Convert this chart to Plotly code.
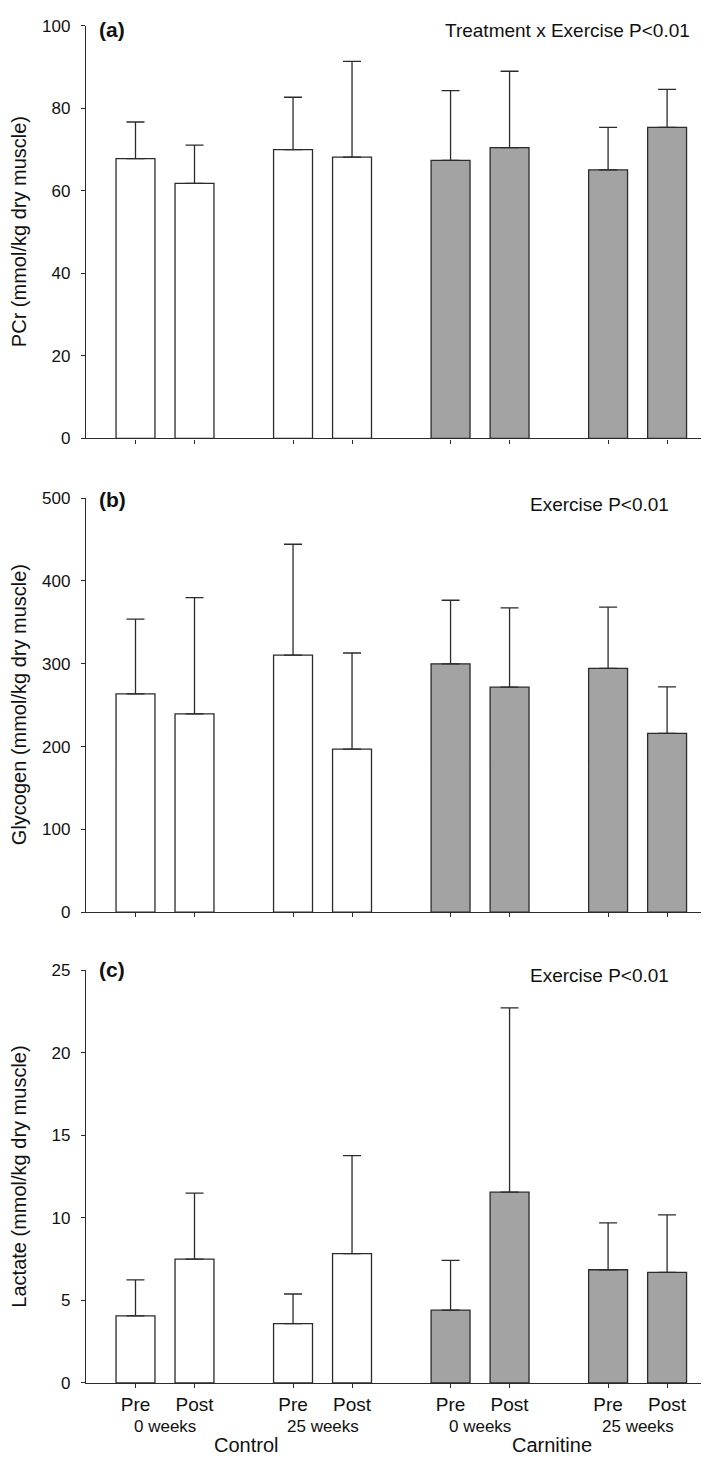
import plotly.graph_objects as go

# ---------------- data ----------------
conditions = ["Pre", "Post", "Pre", "Post", "Pre", "Post", "Pre", "Post"]
periods = ["0 weeks", "25 weeks", "0 weeks", "25 weeks"]
treatments = ["Control", "Carnitine"]

pcr_mean = [67.8, 61.8, 70.0, 68.2, 67.4, 70.5, 65.1, 75.4]
pcr_upper = [76.7, 71.1, 82.7, 91.4, 84.3, 89.0, 75.4, 84.6]

glyc_mean = [263.7, 239.5, 310.3, 196.9, 299.9, 271.7, 294.4, 216.0]
glyc_upper = [354.0, 379.9, 444.3, 313.0, 376.7, 367.5, 368.3, 272.1]

lac_mean = [4.06, 7.50, 3.59, 7.84, 4.41, 11.56, 6.86, 6.70]
lac_upper = [6.25, 11.50, 5.39, 13.77, 7.43, 22.73, 9.70, 10.19]

panel_titles = ["PCr (mmol/kg dry muscle)",
                "Glycogen (mmol/kg dry muscle)",
                "Lactate (mmol/kg dry muscle)"]
panel_letters = ["(a)", "(b)", "(c)"]
panel_stats = ["Treatment x Exercise P<0.01", "Exercise P<0.01", "Exercise P<0.01"]
y_ranges = [[0, 100], [0, 500], [0, 25]]
y_dticks = [20, 100, 5]

# ---------------- layout helpers ----------------
W, H = 709, 1457
PAIR_GAP = 2.67
xpos = [(i // 2) * PAIR_GAP + (i % 2) for i in range(8)]
x_range = [-0.839, 9.856]
BAR_W = 0.66

# panel pixel extents (top, bottom)
panel_px = [(9, 427), (487.5, 907), (966, 1384)]

FONT = "Liberation Sans, Arial, sans-serif"
LINE = "#2b2b2b"
GRAY = "#a3a3a3"

fig = go.Figure()
annotations = []

datasets = [(pcr_mean, pcr_upper), (glyc_mean, glyc_upper), (lac_mean, lac_upper)]

for p, (means, uppers) in enumerate(datasets):
    n = p + 1
    xa = "x" if n == 1 else f"x{n}"
    ya = "y" if n == 1 else f"y{n}"
    errs = [u - m for u, m in zip(uppers, means)]
    for t, color in enumerate(["white", GRAY]):
        idx = list(range(t * 4, t * 4 + 4))
        fig.add_trace(go.Bar(
            x=[xpos[i] for i in idx],
            y=[means[i] for i in idx],
            width=BAR_W,
            marker=dict(color=color, line=dict(color=LINE, width=1.3)),
            error_y=dict(type="data", symmetric=False,
                         array=[errs[i] for i in idx],
                         arrayminus=[0] * 4,
                         color=LINE, thickness=1.3, width=9),
            xaxis=xa, yaxis=ya, showlegend=False,
            name=treatments[t],
        ))

    top, bot = panel_px[p]
    dom = [1 - bot / H, 1 - top / H]
    xkey = "xaxis" if n == 1 else f"xaxis{n}"
    ykey = "yaxis" if n == 1 else f"yaxis{n}"
    fig.update_layout(**{
        xkey: dict(domain=[78 / W, 1.0], range=x_range, anchor=ya,
                   showline=True, linecolor=LINE, linewidth=1.3,
                   ticks="outside", ticklen=4, tickwidth=1.3, tickcolor=LINE,
                   tickvals=xpos,
                   ticktext=conditions if n == 3 else [""] * 8,
                   showticklabels=(n == 3),
                   tickfont=dict(family=FONT, size=19, color="#111"),
                   ticklabelstandoff=0,
                   showgrid=False, zeroline=False, fixedrange=True),
        ykey: dict(domain=dom, range=y_ranges[p], anchor=xa,
                   dtick=y_dticks[p], tick0=0,
                   showline=True, linecolor=LINE, linewidth=1.3,
                   ticks="outside", ticklen=4, tickwidth=1.3, tickcolor=LINE,
                   tickfont=dict(family=FONT, size=17, color="#111"),
                   ticklabelstandoff=7,
                   showgrid=False, zeroline=False, fixedrange=True),
    })

    # y-axis title
    annotations.append(dict(
        text=panel_titles[p], xref="paper", yref="paper",
        x=11 / W, y=1 - (top + bot) / 2 / H, textangle=-90,
        showarrow=False, xanchor="center", yanchor="middle",
        font=dict(family=FONT, size=20, color="#111")))
    # panel letter
    letter_y = [13, 489, 965.5][p]
    annotations.append(dict(
        text=f"<b>{panel_letters[p]}</b>", xref="paper", yref="paper",
        x=89 / W, y=1 - letter_y / H, showarrow=False,
        xanchor="left", yanchor="middle",
        font=dict(family=FONT, size=21, color="#111")))
    # statistics text
    stat_right = [684, 663, 663][p]
    stat_y = [14, 494, 971][p]
    annotations.append(dict(
        text=panel_stats[p], xref="paper", yref="paper",
        x=stat_right / W, y=1 - stat_y / H, showarrow=False,
        xanchor="right", yanchor="middle",
        font=dict(family=FONT, size=19, color="#111")))

# period labels under the bottom panel
for g, label in enumerate(periods):
    xm = (xpos[2 * g] + xpos[2 * g + 1]) / 2
    annotations.append(dict(
        text=label, xref="x3", yref="paper", x=xm, y=1 - 1428 / H,
        showarrow=False, xanchor="center", yanchor="middle",
        font=dict(family=FONT, size=17, color="#111")))

# treatment labels
for t, label in enumerate(treatments):
    xm = (xpos[4 * t] + xpos[4 * t + 3]) / 2
    annotations.append(dict(
        text=label, xref="x3", yref="paper", x=xm, y=1 - 1447 / H,
        xshift=[2, -7][t],
        showarrow=False, xanchor="center", yanchor="middle",
        font=dict(family=FONT, size=20, color="#111")))

fig.update_layout(
    width=W, height=H,
    margin=dict(l=0, r=0, t=0, b=0),
    paper_bgcolor="white", plot_bgcolor="white",
    barmode="overlay",
    annotations=annotations,
    font=dict(family=FONT, color="#111"),
)

fig.write_html("out.html")
